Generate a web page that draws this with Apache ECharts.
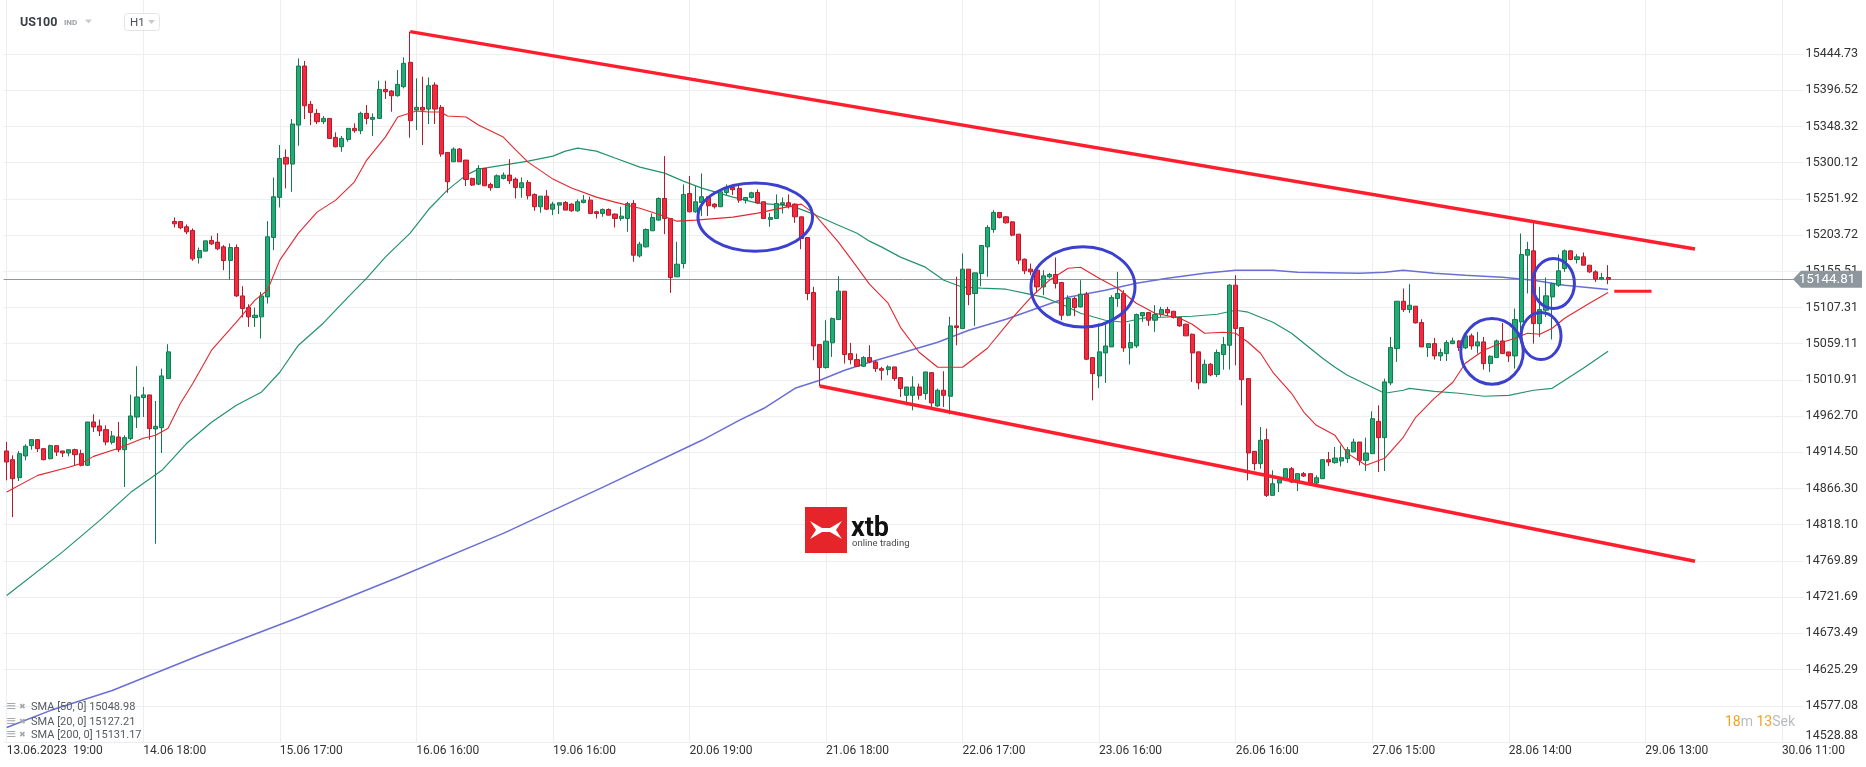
<!DOCTYPE html>
<html><head><meta charset="utf-8">
<script src="https://cdn.jsdelivr.net/npm/echarts@6/dist/echarts.min.js"></script>
<style>html,body{margin:0;padding:0;background:#fff}#c{width:1866px;height:767px}</style>
</head><body><div id="c"></div>
<script>
const xTickLabels = ['13.06.2023  19:00','14.06 18:00','15.06 17:00','16.06 16:00','19.06 16:00','20.06 19:00','21.06 18:00','22.06 17:00','23.06 16:00','26.06 16:00','27.06 15:00','28.06 14:00','29.06 13:00','30.06 11:00'];
const yTickLabels = ['14528.88','14577.08','14625.29','14673.49','14721.69','14769.89','14818.10','14866.30','14914.50','14962.70','15010.91','15059.11','15107.31','15155.51','15203.72','15251.92','15300.12','15348.32','15396.52','15444.73'];
const BARS_PER_LABEL = 22;
const CATEGORY_COUNT = 290;
const categories = Array.from({length: CATEGORY_COUNT}, (_, i) => String(i));

// [open, close, low, high]
const candles = [
[14916.3,14901.6,14877.2,14928.3],[14904.7,14879.4,14828.3,14910.5],[14880.7,14912.7,14876.3,14916.3],[14909.6,14922.5,14903.8,14925.1],
[14923.4,14931.4,14918.0,14931.4],[14931.4,14919.4,14914.9,14931.4],[14919.4,14904.7,14903.8,14919.4],[14906.0,14923.4,14905.0,14924.7],
[14923.4,14914.9,14909.6,14923.4],[14916.3,14913.6,14908.2,14916.3],[14913.6,14918.0,14909.1,14918.0],[14918.0,14911.4,14897.2,14919.4],
[14912.7,14897.2,14895.8,14918.0],[14897.2,14954.9,14896.3,14954.9],[14954.9,14948.2,14941.6,14965.1],[14949.6,14942.9,14936.2,14958.0],
[14944.7,14928.3,14923.8,14950.4],[14927.8,14936.2,14925.1,14942.9],[14934.9,14918.0,14914.9,14954.9],[14918.0,14934.0,14868.3,14937.1],
[14932.7,14962.9,14930.5,14991.3],[14961.5,14988.2,14946.9,15029.1],[14987.3,14990.9,14961.5,15001.5],[14990.9,14946.0,14931.4,14990.9],
[14945.6,14949.1,14792.8,14982.9],[14947.3,15016.2,14913.6,15025.9],[15012.6,15048.2,15012.6,15058.4],[15221.8,15218.7,15213.8,15227.1],
[15221.8,15213.4,15211.6,15221.8],[15214.7,15208.0,15204.9,15217.8],[15209.8,15172.0,15169.4,15212.5],[15173.4,15183.2,15165.8,15187.1],
[15182.3,15196.0,15182.3,15196.0],[15196.5,15192.0,15190.3,15202.7],[15194.3,15185.4,15183.6,15206.2],[15188.0,15169.8,15156.9,15190.3],
[15169.8,15187.1,15144.5,15192.5],[15187.1,15122.7,15121.4,15191.2],[15122.7,15105.9,15093.9,15135.6],[15107.2,15094.8,15081.4,15111.6],
[15093.9,15097.0,15081.4,15107.2],[15094.8,15122.7,15065.9,15128.1],[15121.4,15201.4,15112.5,15222.2],[15200.5,15254.7,15183.6,15280.4],
[15253.8,15305.7,15240.4,15323.5],[15307.1,15298.2,15265.8,15317.7],[15298.2,15351.5,15261.3,15358.1],[15350.1,15428.7,15322.6,15438.9],
[15428.7,15375.9,15358.1,15435.4],[15377.7,15367.0,15350.1,15382.1],[15365.7,15354.6,15351.5,15371.4],[15354.6,15359.0,15351.5,15362.1],
[15359.0,15332.4,15331.5,15359.0],[15333.7,15321.3,15320.4,15340.4],[15321.3,15332.4,15314.6,15335.5],[15331.0,15345.7,15327.9,15345.7],
[15345.7,15342.6,15339.9,15352.4],[15342.6,15365.7,15338.1,15367.9],[15365.7,15359.0,15351.0,15376.8],[15357.7,15360.3,15335.5,15365.7],
[15359.0,15397.6,15359.0,15409.2],[15397.6,15394.5,15384.8,15409.2],[15395.4,15389.2,15367.9,15396.8],[15389.2,15404.3,15387.9,15423.4],
[15401.2,15432.3,15399.0,15440.3],[15433.6,15355.9,15333.3,15474.5],[15370.1,15373.7,15343.5,15412.3],[15373.7,15370.1,15323.5,15414.5],
[15371.4,15402.5,15351.5,15413.6],[15403.4,15371.4,15351.5,15407.0],[15373.7,15311.5,15307.9,15376.8],[15313.7,15274.7,15260.0,15313.7],
[15301.3,15318.2,15301.3,15320.4],[15318.2,15301.3,15301.3,15319.5],[15303.5,15277.7,15268.9,15303.5],[15279.1,15270.2,15269.0,15280.0],
[15271.5,15292.4,15270.2,15296.8],[15292.4,15269.3,15269.0,15292.4],[15271.1,15266.7,15262.7,15273.3],[15267.1,15282.6,15267.0,15284.4],
[15279.1,15283.5,15277.7,15287.1],[15283.5,15276.0,15271.5,15304.8],[15278.2,15267.1,15252.4,15280.4],[15266.7,15273.3,15253.3,15280.4],
[15273.8,15256.0,15251.1,15276.9],[15257.8,15241.4,15236.0,15259.1],[15241.4,15255.5,15233.3,15255.5],[15255.5,15238.2,15236.9,15263.5],
[15238.2,15244.9,15230.2,15248.0],[15243.6,15246.7,15231.6,15246.7],[15247.1,15236.9,15236.9,15248.9],[15244.9,15236.0,15234.7,15245.8],
[15236.0,15248.0,15234.7,15251.1],[15247.1,15250.2,15245.8,15256.9],[15250.2,15232.5,15231.6,15254.7],[15234.7,15232.5,15225.8,15236.0],
[15232.5,15237.8,15228.0,15239.1],[15237.8,15230.2,15230.0,15239.1],[15231.6,15225.8,15213.8,15232.5],[15225.8,15228.9,15222.7,15241.4],
[15225.8,15245.8,15208.0,15248.0],[15245.8,15176.9,15168.1,15250.2],[15176.0,15191.6,15173.8,15194.7],[15188.0,15211.1,15187.0,15212.5],
[15209.4,15227.1,15209.4,15232.5],[15223.6,15252.4,15222.7,15253.8],[15252.4,15225.8,15204.9,15308.8],[15225.8,15147.2,15126.8,15225.8],
[15148.1,15164.9,15148.0,15194.7],[15165.8,15257.8,15159.2,15271.1],[15259.1,15234.7,15234.0,15282.2],[15234.7,15248.0,15233.3,15268.9],
[15247.1,15254.7,15228.9,15285.7],[15254.7,15242.7,15228.9,15254.7],[15244.9,15241.4,15239.0,15246.0],[15241.4,15261.3,15241.0,15263.5],
[15260.4,15267.1,15256.9,15271.1],[15267.1,15264.0,15257.0,15268.0],[15265.8,15250.2,15246.7,15268.9],[15250.2,15253.8,15245.8,15253.8],
[15253.8,15260.0,15252.4,15261.3],[15260.4,15246.7,15244.9,15264.4],[15248.0,15225.8,15224.9,15248.0],[15224.5,15227.1,15214.7,15233.3],
[15225.8,15245.8,15225.8,15257.8],[15244.4,15246.7,15232.5,15253.8],[15246.7,15241.4,15239.1,15257.8],[15244.9,15228.0,15220.0,15245.8],
[15228.0,15199.1,15184.9,15228.0],[15200.5,15125.9,15117.0,15200.5],[15127.2,15056.1,15037.0,15134.7],[15057.9,15027.3,15002.4,15057.9],
[15027.3,15062.4,15025.9,15090.3],[15060.2,15092.5,15041.5,15093.9],[15091.2,15129.0,15091.0,15149.0],[15129.0,15044.6,15032.6,15129.0],
[15045.9,15037.9,15031.7,15060.2],[15037.9,15029.1,15028.0,15045.9],[15029.1,15040.6,15028.0,15042.4],[15040.6,15034.8,15033.0,15057.0],
[15034.8,15025.9,15021.5,15037.0],[15025.9,15023.7,15010.4,15028.2],[15024.6,15028.2,15017.1,15030.4],[15028.2,15012.6,15009.5,15028.2],
[15014.0,14999.3,14988.2,15014.0],[14990.4,15001.5,14977.1,15001.5],[14990.4,15001.5,14970.4,15015.7],[15001.5,14990.4,14984.6,15006.0],
[14992.6,15021.5,14984.6,15021.5],[15020.6,14980.2,14974.9,15020.6],[14976.2,14997.1,14974.9,14999.3],[14997.1,14990.4,14974.9,15022.4],
[14989.1,15082.8,14965.1,15094.8],[15082.8,15080.6,15057.0,15148.1],[15079.2,15158.3,15079.2,15179.2],[15158.3,15124.5,15110.3,15158.3],
[15125.9,15153.4,15082.8,15153.4],[15152.5,15189.8,15135.6,15189.8],[15188.0,15213.8,15148.1,15216.9],[15211.1,15233.8,15206.7,15236.9],
[15233.8,15227.1,15225.8,15233.8],[15228.0,15220.0,15219.0,15229.0],[15221.3,15203.6,15202.0,15222.0],[15204.9,15170.3,15164.9,15204.9],
[15171.6,15156.1,15151.6,15172.5],[15158.3,15154.7,15150.3,15165.8],[15157.0,15134.7,15126.8,15157.0],[15134.7,15149.4,15123.6,15157.0],
[15148.1,15151.2,15145.9,15153.4],[15151.2,15139.2,15132.5,15173.8],[15140.5,15097.0,15090.3,15141.4],[15097.0,15119.2,15095.7,15123.6],
[15119.2,15107.2,15095.7,15121.4],[15108.1,15125.0,15107.2,15143.6],[15125.0,15038.4,15037.1,15128.1],[15040.6,15019.3,14983.7,15040.6],
[15016.2,15048.2,15000.2,15085.9],[15046.8,15056.1,15006.9,15085.9],[15054.8,15120.5,15054.8,15123.6],[15119.2,15125.9,15108.1,15154.7],
[15125.9,15053.5,15048.2,15130.3],[15053.5,15060.6,15031.3,15085.9],[15056.1,15097.9,15053.5,15099.2],[15096.1,15100.5,15088.1,15100.5],
[15100.5,15090.3,15082.8,15100.5],[15090.3,15097.9,15074.8,15110.3],[15097.9,15104.5,15094.8,15108.1],[15104.5,15100.1,15095.7,15108.1],
[15102.3,15093.9,15092.6,15102.3],[15093.9,15082.8,15081.5,15094.8],[15085.0,15069.5,15069.5,15085.9],[15071.7,15046.8,15008.2,15072.6],
[15048.2,15006.9,14998.4,15048.2],[15006.9,15031.7,15006.9,15037.9],[15031.7,15017.5,15015.7,15033.5],[15018.0,15047.3,15014.8,15051.3],
[15044.6,15057.9,15024.6,15068.1],[15057.0,15137.0,15024.6,15138.3],[15137.0,15079.2,15030.4,15150.3],[15080.6,15011.3,14977.1,15080.6],
[15012.6,14913.6,14877.2,15012.6],[14915.8,14899.4,14890.5,14915.8],[14899.4,14930.5,14892.7,14948.2],[14931.3,14857.2,14855.0,14946.0],
[14857.2,14872.7,14857.2,14890.5],[14873.6,14878.1,14861.6,14882.5],[14878.1,14892.7,14877.2,14892.7],[14892.7,14875.0,14873.6,14894.9],
[14875.0,14886.1,14863.0,14886.1],[14886.1,14882.9,14881.6,14888.3],[14886.1,14872.7,14870.5,14886.1],[14873.6,14880.7,14870.5,14883.8],
[14879.4,14904.7,14879.0,14905.0],[14904.7,14901.6,14896.3,14914.9],[14900.7,14906.9,14899.4,14921.6],[14902.9,14907.4,14895.8,14923.8],
[14906.0,14918.0,14900.3,14921.6],[14914.9,14928.2,14914.9,14932.7],[14928.2,14903.8,14897.1,14928.2],[14903.8,14913.6,14889.6,14934.0],
[14912.7,14959.3,14912.7,14969.1],[14955.8,14934.0,14888.3,14977.1],[14934.0,15008.2,14889.6,15012.6],[15006.9,15053.9,15003.8,15068.1],
[15052.6,15115.6,15034.8,15115.6],[15115.6,15104.5,15101.4,15132.5],[15104.5,15110.3,15100.1,15138.3],[15109.0,15086.8,15085.9,15109.0],
[15087.2,15054.8,15054.8,15091.7],[15053.9,15059.2,15041.5,15059.2],[15059.2,15042.8,15038.0,15066.8],[15042.8,15047.3,15036.1,15052.6],
[15045.9,15060.6,15036.1,15063.7],[15059.2,15062.8,15058.4,15067.2],[15062.8,15053.9,15049.5,15063.7],[15053.5,15069.5,15051.7,15070.4],
[15069.5,15056.1,15051.2,15072.6],[15056.1,15061.5,15045.9,15074.8],[15061.5,15032.6,15024.6,15068.1],[15032.6,15042.4,15021.5,15043.7],
[15040.6,15062.8,15040.6,15064.6],[15062.8,15045.9,15045.9,15086.8],[15048.1,15042.8,15034.8,15048.1],[15042.8,15091.2,15026.0,15105.9],
[15088.1,15177.8,15069.0,15205.8],[15176.9,15184.5,15125.9,15194.7],[15182.7,15085.9,15059.2,15220.0],[15085.9,15104.5,15068.1,15134.7],
[15103.6,15122.8,15094.8,15147.2],[15121.4,15139.2,15064.6,15140.1],[15136.9,15156.1,15134.7,15177.8],[15159.2,15182.7,15154.7,15184.5],
[15182.7,15171.2,15170.3,15183.6],[15171.2,15174.7,15165.8,15178.3],[15174.7,15163.6,15163.6,15180.5],[15163.6,15154.7,15153.4,15163.6],
[15154.7,15145.0,15141.4,15156.9],[15145.0,15147.2,15143.6,15153.4],[15147.2,15144.81,15138.3,15163.6]
];

// moving averages: [bar index, value]
const sma20 = [[0,14861.6],[5,14883.8],[10,14894.5],[12,14899.8],[14,14909.1],[18,14919.8],[22,14933.1],[24,14937.1],[26,14946.4],[28,14979.7],[30,15006.4],[33,15050.4],[37,15087.7],[40,15117.0],[42,15130.3],[44,15170.3],[47,15206.2],[50,15234.2],[53,15250.2],[56,15274.2],[58,15303.5],[61,15334.1],[63,15360.8],[66,15368.8],[68,15367.5],[70,15367.5],[71,15362.1],[74,15360.8],[76,15350.1],[80,15334.1],[82,15317.0],[84,15300.8],[88,15278.2],[91,15266.2],[95,15254.2],[98,15247.5],[102,15239.5],[105,15231.5],[108,15222.2],[111,15223.6],[117,15227.6],[121,15232.9],[124,15238.2],[128,15244.9],[130,15232.9],[134,15194.3],[137,15161.0],[139,15138.3],[142,15113.0],[144,15080.9],[147,15047.7],[150,15027.7],[154,15027.7],[158,15053.0],[162,15093.0],[165,15120.9],[168,15143.6],[171,15159.6],[173,15160.9],[176,15146.2],[179,15132.9],[182,15112.9],[185,15099.6],[189,15093.0],[191,15085.0],[193,15073.0],[196,15074.3],[198,15073.0],[200,15061.0],[202,15046.4],[204,15021.0],[207,14993.1],[209,14967.8],[211,14950.4],[214,14937.1],[216,14913.1],[219,14897.2],[222,14906.5],[225,14934.5],[227,14961.1],[230,14986.4],[233,15007.8],[235,15033.1],[238,15050.4],[241,15061.0],[243,15066.4],[245,15073.0],[247,15071.7],[249,15079.7],[251,15093.0],[255,15113.0],[258,15127.2]];
const sma50 = [[0,14723.9],[9,14782.0],[15,14823.9],[20,14861.2],[25,14890.5],[29,14926.5],[33,14954.5],[37,14977.1],[41,14994.4],[44,15021.1],[47,15057.1],[51,15086.4],[55,15121.1],[58,15146.4],[61,15174.3],[65,15206.3],[68,15238.0],[71,15263.5],[74,15283.5],[76,15291.5],[80,15296.8],[84,15302.2],[88,15308.8],[90,15315.5],[92,15319.5],[95,15315.5],[98,15306.2],[102,15294.2],[106,15286.2],[109,15275.5],[112,15266.2],[117,15254.2],[121,15246.2],[125,15243.5],[127,15240.9],[130,15231.5],[134,15216.8],[137,15206.2],[139,15195.6],[141,15187.6],[144,15174.3],[148,15161.0],[151,15143.6],[154,15134.3],[157,15133.0],[161,15131.6],[164,15126.3],[167,15121.0],[170,15111.6],[173,15099.6],[177,15090.3],[180,15087.6],[183,15093.0],[186,15094.3],[191,15095.6],[195,15098.3],[198,15103.6],[200,15101.0],[204,15087.6],[207,15073.0],[210,15053.0],[212,15039.7],[214,15027.7],[216,15017.0],[219,15005.0],[222,14993.1],[225,14997.1],[226,14999.7],[230,14995.7],[234,14993.1],[238,14989.1],[242,14990.4],[246,14997.1],[249,14999.7],[251,15010.4],[254,15026.4],[258,15049.0]];
const sma200 = [[0,14548.1],[7,14570.7],[17,14597.4],[31,14644.0],[47,14694.7],[63,14747.9],[80,14806.6],[96,14867.9],[112,14930.5],[118,14957.1],[122,14973.1],[127,14999.7],[131,15010.4],[135,15023.7],[139,15034.4],[144,15046.4],[150,15061.0],[155,15077.0],[161,15091.7],[166,15106.3],[171,15121.0],[177,15130.3],[182,15139.6],[187,15146.3],[193,15153.0],[198,15157.0],[204,15157.0],[208,15154.3],[218,15153.0],[222,15154.3],[225,15157.0],[230,15153.0],[235,15150.3],[241,15147.6],[246,15143.6],[251,15137.0],[258,15131.2]];

const upperChannel = [[65,15474.5],[272,15185.1]];
const lowerChannel = [[131,15002.8],[272,14769.6]];
const targetMark = [[259,15129.0],[265,15129.0]];
const lastPrice = 15144.81;
const lastPriceText = '15144.81';
// [center bar, center value, half width in bars, half height in value]
const ellipses = [[120.6,15227.6,9.23,45.3],[173.4,15134.7,8.38,53.3],[239.3,15048.8,5.04,43.7],[249.2,15139.2,3.38,33.3],[247.2,15069.3,3.22,31.3]];
const legendRows = [['SMA [50, 0]','15048.98'],['SMA [20, 0]','15127.21'],['SMA [200, 0]','15131.17']];

const FONT = 'Roboto, sans-serif';
const chart = echarts.init(document.getElementById('c'), null, {renderer: 'canvas'});

const gridMarks = [];
yTickLabels.forEach((t, k) => {
  const item = {yAxis: parseFloat(t), name: t};
  if (k === 0) item.label = {verticalAlign: 'bottom'};
  gridMarks.push(item);
});
xTickLabels.forEach((t, k) => {
  gridMarks.push({xAxis: k * BARS_PER_LABEL, name: '', label: {show: false}});
});

const option = {
  animation: false,
  backgroundColor: '#ffffff',
  textStyle: {fontFamily: FONT},
  grid: {left: 3.6, right: 62.4, top: 0, bottom: 25, containLabel: false},
  xAxis: {
    type: 'category', data: categories, boundaryGap: true,
    axisLine: {show: false}, axisTick: {show: false}, splitLine: {show: false},
    axisLabel: {
      interval: (i) => i % BARS_PER_LABEL === 0,
      formatter: (v) => { const i = +v; return i % BARS_PER_LABEL === 0 ? (xTickLabels[i / BARS_PER_LABEL] || '') : ''; },
      align: 'left', color: '#333', fontSize: 12, fontFamily: FONT, margin: 3
    }
  },
  yAxis: {
    type: 'value', position: 'right', min: 14528.88, max: 15516.6,
    axisLine: {show: false}, axisTick: {show: false}, axisLabel: {show: false}, splitLine: {show: false}
  },
  series: [
    {
      type: 'line', name: 'gridlines', data: [], clip: false, silent: true, z: 0,
      markLine: {
        silent: true, z: 0, symbol: ['none', 'none'], animation: false,
        lineStyle: {color: '#eceef0', width: 1, type: 'solid'},
        label: {position: 'end', distance: 2, formatter: '{b}', color: '#333', fontSize: 12.5, fontFamily: FONT},
        emphasis: {disabled: true},
        data: gridMarks
      }
    },
    {
      type: 'line', name: 'SMA200', data: sma200, showSymbol: false, smooth: false, z: 3,
      lineStyle: {color: '#6a6fd6', width: 1.5}
    },
    {
      type: 'line', name: 'SMA50', data: sma50, showSymbol: false, smooth: false, z: 3,
      lineStyle: {color: '#23936a', width: 1.2}
    },
    {
      type: 'candlestick', name: 'US100', data: candles, barWidth: 4.6, z: 4,
      itemStyle: {color: '#22ab76', color0: '#f42a3e', borderColor: '#137a4d', borderColor0: '#b51a2b', borderWidth: 1},
      markLine: {
        silent: true, symbol: ['none', 'none'], z: 2, animation: false,
        label: {show: false},
        lineStyle: {color: '#8c979d', width: 1, type: 'solid'},
        emphasis: {disabled: true},
        data: [{yAxis: lastPrice}]
      }
    },
    {
      type: 'line', name: 'SMA20', data: sma20, showSymbol: false, smooth: false, z: 5,
      lineStyle: {color: '#e4262f', width: 1.1}
    },
    {
      type: 'line', name: 'upper', data: upperChannel, showSymbol: false, z: 6,
      lineStyle: {color: '#ff1e2d', width: 3.5}
    },
    {
      type: 'line', name: 'lower', data: lowerChannel, showSymbol: false, z: 6,
      lineStyle: {color: '#ff1e2d', width: 3.5}
    },
    {
      type: 'line', name: 'target', data: targetMark, showSymbol: false, z: 6,
      lineStyle: {color: '#ff1e2d', width: 3}
    }
  ]
};
chart.setOption(option);

const x0 = chart.convertToPixel({xAxisIndex: 0}, 0);
const x100 = chart.convertToPixel({xAxisIndex: 0}, 100);
const bw = (x100 - x0) / 100;
const xp = (i) => x0 + i * bw;
const yp = (v) => chart.convertToPixel({yAxisIndex: 0}, v);

const g = [];
ellipses.forEach(e => {
  const cx = xp(e[0]), cy = yp(e[1]);
  const rx = e[2] * bw, ry = Math.abs(yp(e[1] + e[3]) - cy);
  g.push({type: 'ellipse', shape: {cx, cy, rx, ry}, style: {fill: 'none', stroke: '#3b40cf', lineWidth: 3}, z: 100, silent: true});
});

// last price tag
const py = yp(lastPrice);
g.push({type: 'polygon', shape: {points: [[1793, py], [1801, py - 8.5], [1862, py - 8.5], [1862, py + 8.5], [1801, py + 8.5]]}, style: {fill: '#8d979d'}, z: 110, silent: true});
g.push({type: 'text', x: 1827, y: py, style: {text: lastPriceText, fill: '#ffffff', fontSize: 13.5, fontFamily: FONT, align: 'center', verticalAlign: 'middle'}, z: 111, silent: true});

// header
g.push({type: 'text', x: 20, y: 23, style: {text: 'US100', fill: '#3a3f44', fontSize: 12.5, fontWeight: 'bold', fontFamily: FONT, verticalAlign: 'middle'}, z: 120});
g.push({type: 'text', x: 64, y: 23, style: {text: 'IND', fill: '#9aa0a6', fontSize: 8, fontWeight: 'bold', fontFamily: FONT, verticalAlign: 'middle'}, z: 120});
g.push({type: 'polygon', shape: {points: [[85, 19.5], [92, 19.5], [88.5, 23.5]]}, style: {fill: '#c8cbce'}, z: 120});
g.push({type: 'rect', shape: {x: 124.5, y: 13.5, width: 35, height: 17, r: 3}, style: {fill: '#ffffff', stroke: '#e2e4e6', lineWidth: 1}, z: 119});
g.push({type: 'text', x: 130, y: 23, style: {text: 'H1', fill: '#4a4f54', fontSize: 11.5, fontFamily: FONT, verticalAlign: 'middle'}, z: 120});
g.push({type: 'polygon', shape: {points: [[148, 20], [155, 20], [151.5, 24]]}, style: {fill: '#c8cbce'}, z: 120});

// watermark logo
g.push({type: 'rect', shape: {x: 805, y: 507, width: 42, height: 46}, style: {fill: '#e6252b'}, z: 1});
g.push({type: 'polygon', shape: {points: [[810, 521], [822, 528], [830, 528], [842, 521], [836, 530], [842, 539], [830, 532], [822, 532], [810, 539], [816, 530]]}, style: {fill: '#ffffff'}, z: 1});
g.push({type: 'text', x: 851, y: 529, style: {text: 'xtb', fill: '#111111', fontSize: 27, fontWeight: 'bold', fontFamily: FONT, verticalAlign: 'middle'}, z: 1});
g.push({type: 'text', x: 852, y: 544, style: {text: 'online trading', fill: '#4a4a4a', fontSize: 9.5, fontFamily: FONT, verticalAlign: 'middle'}, z: 1});

// countdown
g.push({type: 'text', x: 1725, y: 722, style: {
  text: '{o|18}{g|m }{o|13}{g|Sek}', verticalAlign: 'middle', fontFamily: FONT, fontSize: 14,
  rich: {o: {fill: '#f7a020', color: '#f7a020', fontSize: 14, fontFamily: FONT}, g: {fill: '#b9bcc0', color: '#b9bcc0', fontSize: 14, fontFamily: FONT}}
}, z: 120});

// indicator legend
const ly = [707, 722, 735];
legendRows.forEach((r, k) => {
  g.push({type: 'text', x: 6, y: ly[k], style: {text: '\u2261', fill: '#a3a8ad', fontSize: 13, fontFamily: 'DejaVu Sans', verticalAlign: 'middle'}, z: 120});
  g.push({type: 'text', x: 19, y: ly[k], style: {text: '\u2716', fill: '#a3a8ad', fontSize: 8, fontFamily: 'DejaVu Sans', verticalAlign: 'middle'}, z: 120});
  g.push({type: 'text', x: 31, y: ly[k], style: {text: r[0] + ' ' + r[1], fill: '#555a5f', fontSize: 11, fontFamily: FONT, verticalAlign: 'middle'}, z: 120});
});

chart.setOption({graphic: {elements: g}});
</script>
</body></html>
